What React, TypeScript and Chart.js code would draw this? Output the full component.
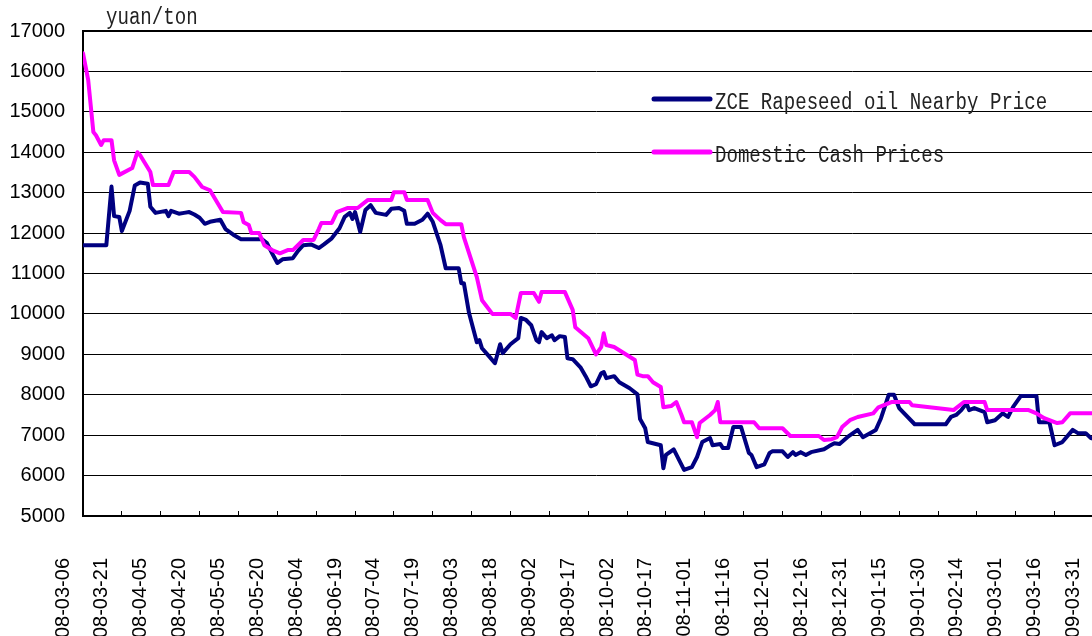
import React, { useEffect, useRef } from 'react';
import { Chart, registerables } from 'chart.js';

Chart.register(...registerables);

// x tick labels, one every 15 days starting at 2008-03-06 (day 0)
const tickLabels = [
  '2008-03-06', '2008-03-21', '2008-04-05', '2008-04-20', '2008-05-05', '2008-05-20',
  '2008-06-04', '2008-06-19', '2008-07-04', '2008-07-19', '2008-08-03', '2008-08-18',
  '2008-09-02', '2008-09-17', '2008-10-02', '2008-10-17', '2008-11-01', '2008-11-16',
  '2008-12-01', '2008-12-16', '2008-12-31', '2009-01-15', '2009-01-30', '2009-02-14',
  '2009-03-01', '2009-03-16', '2009-03-31',
];

const unitLabel = 'yuan/ton';
const seriesNames = ['ZCE Rapeseed oil Nearby Price', 'Domestic Cash Prices'];

// ZCE rapeseed oil nearby price: days since 2008-03-06 and values
const zceDays = [
  0, 9, 11, 12, 14, 15, 18, 20, 22, 25, 26, 28, 32, 33, 34, 37, 39, 41, 43, 45, 47, 49, 53, 55,
  58, 61, 69, 71, 73, 75, 77, 81, 83, 85, 88, 91, 93, 96, 99, 101, 103, 104, 105, 107, 109, 111,
  113, 117, 119, 122, 124, 125, 128, 131, 133, 135, 138, 140, 145, 146, 147, 149, 152, 153, 154,
  157, 159, 161, 162, 165, 168, 169, 171, 173, 175, 176, 177, 179, 181, 182, 184, 186, 187, 189,
  192, 194, 196, 198, 200, 201, 202, 205, 207, 211, 214, 215, 217, 218, 223, 224, 225, 228, 232,
  235, 237, 239, 242, 243, 246, 247, 249, 251, 254, 257, 258, 260, 263, 265, 266, 270, 272, 274,
  275, 277, 279, 281, 286, 288, 290, 292, 295, 299, 301, 306, 308, 311, 313, 315, 321, 333, 335,
  337, 339, 341, 342, 344, 348, 349, 352, 355, 357, 359, 362, 368, 369, 373, 375, 378, 382, 384,
  387, 389, 392, 396,
];
const zceValues = [
  11700, 11700, 13150, 12420, 12400, 12050, 12550, 13180, 13250, 13220, 12650, 12500, 12550,
  12420, 12550, 12480, 12500, 12520, 12460, 12380, 12230, 12280, 12330, 12100, 11960, 11850,
  11850, 11750, 11500, 11260, 11350, 11380, 11560, 11700, 11720, 11630, 11720, 11870, 12120,
  12400, 12500, 12350, 12520, 12030, 12570, 12690, 12500, 12450, 12600, 12620, 12550, 12230,
  12230, 12330, 12480, 12280, 11700, 11130, 11130, 10760, 10760, 10020, 9300, 9350, 9150, 8930,
  8780, 9250, 9030, 9250, 9400, 9900, 9850, 9720, 9350, 9300, 9550, 9400, 9470, 9350, 9450, 9430,
  8900, 8880, 8680, 8460, 8210, 8260, 8530, 8560, 8410, 8460, 8310, 8160, 8010, 7400, 7170, 6830,
  6750, 6180, 6510, 6650, 6140, 6210, 6460, 6830, 6930, 6750, 6780, 6680, 6680, 7200, 7200, 6560,
  6510, 6210, 6280, 6560, 6600, 6600, 6460, 6580, 6510, 6580, 6510, 6580, 6650, 6730, 6800, 6780,
  6950, 7130, 6950, 7130, 7420, 8000, 8000, 7670, 7270, 7270, 7450, 7500, 7620, 7790, 7620, 7670,
  7570, 7320, 7370, 7540, 7450, 7700, 7970, 7970, 7320, 7320, 6750, 6830, 7130, 7050, 7050, 6930,
  6880, 6850,
];

// Domestic cash prices: days since 2008-03-06 and values
const cashDays = [
  0, 2, 4, 5, 7, 8, 11, 12, 14, 19, 21, 22, 26, 27, 33, 35, 41, 43, 46, 49, 54, 61, 62, 64, 65,
  68, 70, 73, 76, 79, 81, 85, 89, 91, 92, 96, 98, 102, 106, 110, 119, 120, 124, 125, 133, 135,
  138, 140, 146, 147, 152, 154, 158, 165, 167, 169, 174, 176, 177, 186, 189, 190, 195, 198, 200,
  201, 202, 205, 213, 214, 216, 218, 220, 223, 224, 227, 229, 231, 232, 235, 237, 238, 242, 244,
  245, 246, 259, 261, 270, 273, 284, 286, 289, 291, 293, 296, 299, 305, 307, 312, 319, 320, 336,
  340, 348, 349, 365, 368, 371, 376, 378, 381, 396,
];
const cashValues = [
  16450, 15790, 14500, 14420, 14180, 14300, 14300, 13800, 13440, 13610, 14000, 13930, 13510,
  13190, 13190, 13510, 13510, 13390, 13140, 13060, 12520, 12500, 12270, 12200, 12000, 12000,
  11700, 11580, 11500, 11580, 11580, 11830, 11830, 12100, 12250, 12250, 12520, 12620, 12620,
  12820, 12820, 13010, 13010, 12820, 12820, 12500, 12320, 12220, 12220, 11900, 10910, 10340,
  10000, 10000, 9900, 10520, 10520, 10300, 10540, 10540, 10100, 9670, 9400, 9000, 9180, 9520,
  9230, 9180, 8860, 8500, 8460, 8460, 8310, 8190, 7690, 7720, 7820, 7500, 7320, 7320, 6950, 7300,
  7500, 7620, 7820, 7320, 7320, 7170, 7170, 6980, 6980, 6880, 6900, 6950, 7200, 7370, 7450, 7540,
  7690, 7820, 7820, 7740, 7620, 7820, 7820, 7620, 7620, 7540, 7420, 7300, 7320, 7540, 7540,
];

const seriesColors = ['#000080', '#ff00ff'];

const overlayPlugin = {
  id: 'overlay',
  afterDraw(chart: any) {
    const ctx = chart.ctx as CanvasRenderingContext2D;
    const area = chart.chartArea;
    ctx.save();
    // plot area top border
    ctx.strokeStyle = '#000';
    ctx.lineWidth = 2;
    ctx.beginPath();
    ctx.moveTo(area.left, area.top);
    ctx.lineTo(area.right, area.top);
    ctx.stroke();

    const drawText = (text: string, x: number, y: number) => {
      ctx.save();
      ctx.translate(x, y);
      ctx.scale(0.83, 1);
      ctx.fillText(text, 0, 0);
      ctx.restore();
    };
    ctx.font = '23px "Liberation Mono"';
    ctx.fillStyle = '#222';
    ctx.textBaseline = 'alphabetic';
    ctx.textAlign = 'left';
    drawText(unitLabel, 106, 24);

    chart.data.datasets.forEach((ds: any, i: number) => {
      const y = 99 + i * 53;
      ctx.strokeStyle = ds.borderColor;
      ctx.lineWidth = 5;
      ctx.lineCap = 'round';
      ctx.beginPath();
      ctx.moveTo(654, y);
      ctx.lineTo(710, y);
      ctx.stroke();
      drawText(ds.label, 715, y + 10);
    });
    ctx.restore();
  },
};

export default function App() {
  const ref = useRef<HTMLCanvasElement | null>(null);

  useEffect(() => {
    if (!ref.current) return;
    const chart = new Chart(ref.current, {
      type: 'line',
      data: {
        datasets: [
          {
            label: seriesNames[0],
            data: zceDays.map((d, i) => ({ x: d, y: zceValues[i] })),
            borderColor: seriesColors[0],
            backgroundColor: seriesColors[0],
            borderWidth: 4,
            pointRadius: 0,
            tension: 0,
            borderJoinStyle: 'round',
            borderCapStyle: 'round',
            order: 1,
          },
          {
            label: seriesNames[1],
            data: cashDays.map((d, i) => ({ x: d, y: cashValues[i] })),
            borderColor: seriesColors[1],
            backgroundColor: seriesColors[1],
            borderWidth: 4,
            pointRadius: 0,
            tension: 0,
            borderJoinStyle: 'round',
            borderCapStyle: 'round',
            order: 0,
          },
        ],
      },
      options: {
        animation: false,
        responsive: false,
        maintainAspectRatio: false,
        layout: { padding: { left: 10, top: 31, right: 11, bottom: 10 } },
        plugins: {
          legend: { display: false },
          tooltip: { enabled: false },
          title: { display: false },
        },
        scales: {
          x: {
            type: 'linear',
            min: 0,
            max: 396,
            ticks: {
              stepSize: 15,
              autoSkip: false,
              includeBounds: false,
              minRotation: 90,
              maxRotation: 90,
              labelOffset: -20,
              padding: 47,
              color: '#000',
              font: { family: '"Liberation Sans"', size: 20 },
              callback: (v: any) => tickLabels[Math.round(Number(v) / 15)] ?? '',
            },
            grid: { drawOnChartArea: false, tickLength: -5, color: '#000', lineWidth: 1 },
            border: { color: '#000', width: 2 },
            afterFit: (s: any) => {
              s.height = 144;
              s.paddingLeft = 0;
              s.paddingRight = 0;
            },
          },
          y: {
            min: 5000,
            max: 17000,
            ticks: {
              stepSize: 1000,
              padding: 18,
              color: '#000',
              font: { family: '"Liberation Sans"', size: 20 },
              callback: (v: any) => String(v),
            },
            grid: { color: '#000', lineWidth: 1, drawTicks: false },
            border: { color: '#000', width: 2 },
            afterFit: (s: any) => {
              s.width = 73;
              s.paddingTop = 0;
              s.paddingBottom = 0;
            },
          },
        },
      },
      plugins: [overlayPlugin],
    });
    return () => chart.destroy();
  }, []);

  return (
    <div
      style={{
        position: 'fixed',
        left: 0,
        top: 0,
        width: 1092,
        height: 636,
        overflow: 'hidden',
        background: '#fff',
      }}
    >
      <canvas ref={ref} width={1120} height={670} style={{ display: 'block' }} />
    </div>
  );
}
